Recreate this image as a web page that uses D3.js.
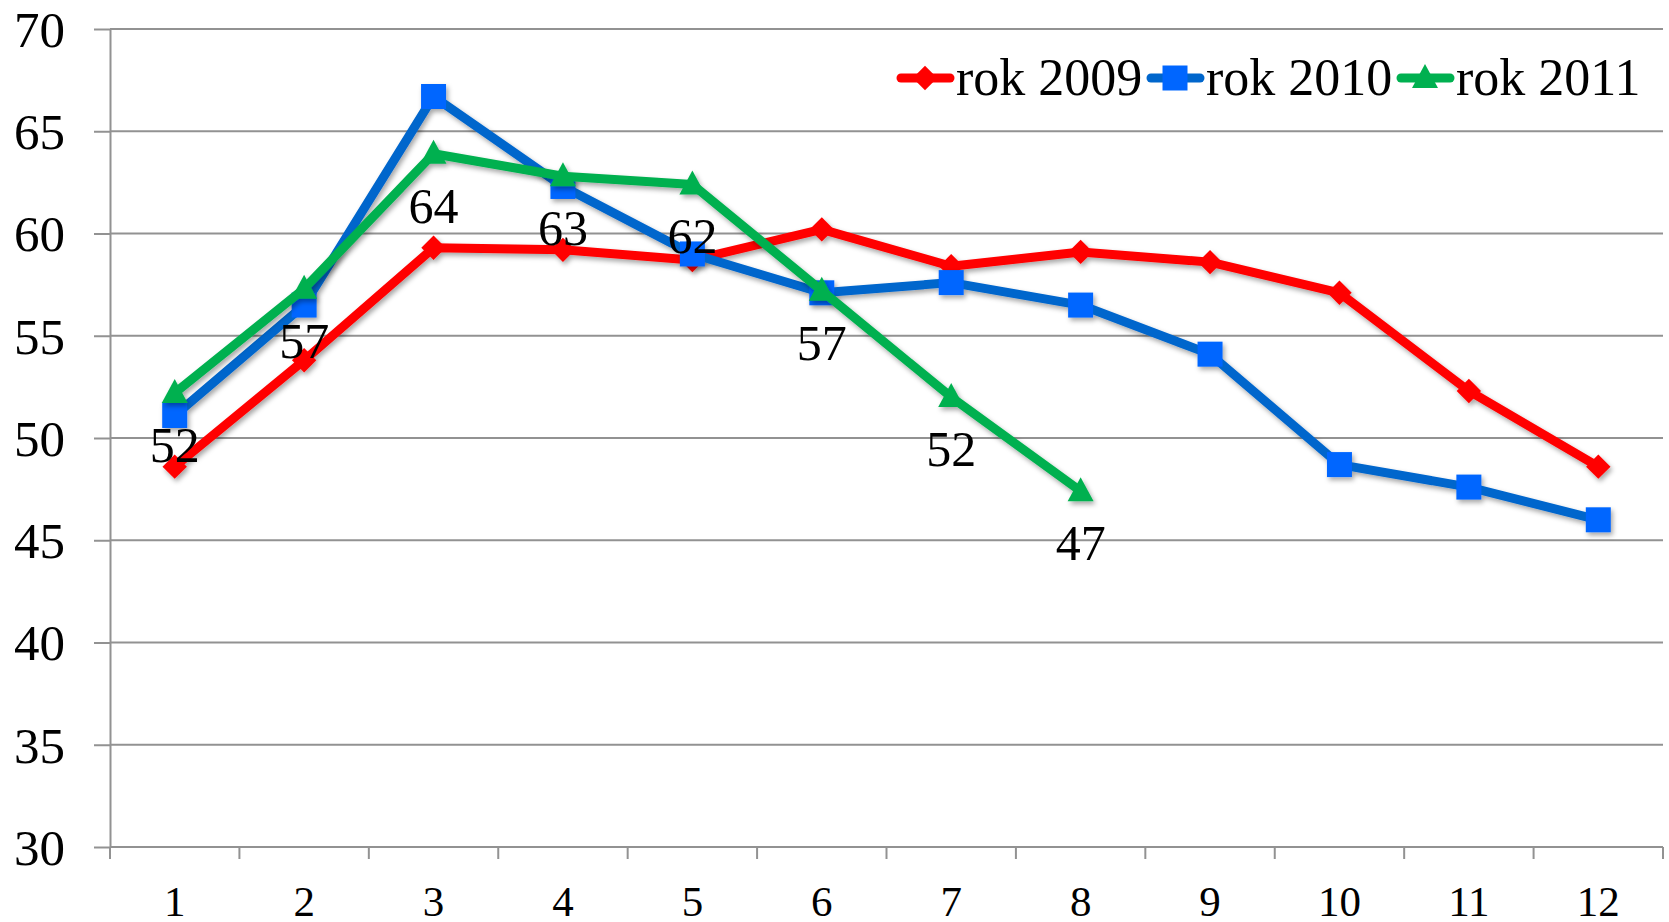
<!DOCTYPE html>
<html>
<head>
<meta charset="utf-8">
<script src="https://d3js.org/d3.v7.min.js"></script>
<style>
  body { margin: 0; background: #fff; }
  text { font-family: "Liberation Serif", "Times New Roman", serif; fill: #000; }
</style>
</head>
<body>
<script>
    var width = 1669;
    var height = 922;

    // data
    var months = [1, 2, 3, 4, 5, 6, 7, 8, 9, 10, 11, 12];
    var rok2009 = [48.6, 53.8, 59.3, 59.2, 58.7, 60.2, 58.4, 59.1, 58.6, 57.1, 52.3, 48.6];
    var rok2010 = [51.1, 56.5, 66.7, 62.3, 59.0, 57.1, 57.6, 56.5, 54.1, 48.7, 47.6, 46.0];
    var rok2011 = [52.2, 57.3, 63.9, 62.8, 62.4, 57.2, 52.0, 47.4];
    var yTicks = [30, 35, 40, 45, 50, 55, 60, 65, 70];
    var seriesNames = ["rok 2009", "rok 2010", "rok 2011"];

    var series = [
        { name: seriesNames[0], values: rok2009, line: "#ff0000", fill: "#ff0000", marker: "diamond" },
        { name: seriesNames[1], values: rok2010, line: "#0066cc", fill: "#0066ff", marker: "square" },
        { name: seriesNames[2], values: rok2011, line: "#00b050", fill: "#00b050", marker: "triangle", labels: true }
    ];

    var plotLeft = 110, plotRight = 1663, plotTop = 29, plotBottom = 847;

    var x = d3.scaleBand()
        .domain(months)
        .range([plotLeft, plotRight]);

    var y = d3.scaleLinear()
        .domain([30, 70])
        .range([plotBottom, plotTop]);

    var svg = d3.select("body").append("svg")
        .attr("width", width)
        .attr("height", height);

    var defs = svg.append("defs");
    var shadow = defs.append("filter")
        .attr("id", "shadow")
        .attr("x", "-20%").attr("y", "-20%")
        .attr("width", "140%").attr("height", "140%");
    shadow.append("feDropShadow")
        .attr("dx", 2).attr("dy", 3)
        .attr("stdDeviation", 2.5)
        .attr("flood-color", "#000")
        .attr("flood-opacity", 0.35);

    // gridlines
    svg.append("g")
        .selectAll("line")
        .data(yTicks)
        .enter().append("line")
        .attr("x1", plotLeft)
        .attr("x2", plotRight)
        .attr("y1", function (d) { return y(d); })
        .attr("y2", function (d) { return y(d); })
        .style("stroke", "#929292")
        .style("stroke-width", 2);

    // y axis
    var yAxis = svg.append("g")
        .attr("transform", "translate(" + plotLeft + ",0)")
        .call(d3.axisLeft(y).tickValues(yTicks).tickSize(16).tickSizeOuter(0).tickPadding(29));
    yAxis.selectAll("path, line").style("stroke", "#929292").style("stroke-width", 2);
    yAxis.selectAll("text")
        .style("font-family", "'Liberation Serif', serif")
        .style("font-size", "51px")
        .attr("dy", "0.34em");

    // x axis: ticks on category boundaries
    var bounds = months.map(function (m) { return x(m); }).concat([plotRight]);
    var xAxis = svg.append("g");
    xAxis.selectAll("line")
        .data(bounds)
        .enter().append("line")
        .attr("x1", function (d) { return d; })
        .attr("x2", function (d) { return d; })
        .attr("y1", plotBottom)
        .attr("y2", plotBottom + 12)
        .style("stroke", "#929292")
        .style("stroke-width", 2);
    xAxis.selectAll("text")
        .data(months)
        .enter().append("text")
        .attr("x", function (d) { return x(d) + x.bandwidth() / 2; })
        .attr("y", 916)
        .attr("text-anchor", "middle")
        .style("font-size", "43px")
        .text(function (d) { return d; });

    function markerPath(type) {
        if (type === "diamond") return d3.symbol().type(d3.symbolDiamond2).size(380)();
        if (type === "square") return "M-12.5,-12.5H12.5V12.5H-12.5Z";
        return "M0,-14L13,10H-13Z";
    }

    var line = d3.line()
        .x(function (d, i) { return x(months[i]) + x.bandwidth() / 2; })
        .y(function (d) { return y(d); });

    series.forEach(function (s) {
        var g = svg.append("g").attr("filter", "url(#shadow)");
        g.append("path")
            .attr("d", line(s.values))
            .style("fill", "none")
            .style("stroke", s.line)
            .style("stroke-width", 9)
            .style("stroke-linejoin", "round");
        g.selectAll(".pt")
            .data(s.values)
            .enter().append("path")
            .attr("class", "pt")
            .attr("transform", function (d, i) { return "translate(" + (x(months[i]) + x.bandwidth() / 2) + "," + y(d) + ")"; })
            .attr("d", markerPath(s.marker))
            .style("fill", s.fill);
    });

    // data labels of rok 2011
    series.forEach(function (s) {
        if (!s.labels) return;
        svg.append("g")
            .selectAll("text")
            .data(s.values)
            .enter().append("text")
            .attr("x", function (d, i) { return x(months[i]) + x.bandwidth() / 2; })
            .attr("y", function (d) { return y(d) + 69; })
            .attr("text-anchor", "middle")
            .style("font-size", "50px")
            .text(function (d) { return Math.round(d); });
    });

    // legend
    var legend = svg.append("g")
        .selectAll("g")
        .data(series)
        .enter().append("g")
        .attr("transform", function (d, i) { return "translate(" + (897 + i * 250) + ",78)"; });
    legend.append("line")
        .attr("x1", 4).attr("x2", 53)
        .style("stroke", function (d) { return d.line; })
        .style("stroke-width", 9)
        .style("stroke-linecap", "round");
    legend.append("path")
        .attr("transform", "translate(28,0)")
        .attr("d", function (d) { return markerPath(d.marker); })
        .style("fill", function (d) { return d.fill; });
    legend.append("text")
        .attr("x", 59)
        .attr("y", 17)
        .style("font-size", "52px")
        .text(function (d) { return d.name; });
</script>
</body>
</html>
